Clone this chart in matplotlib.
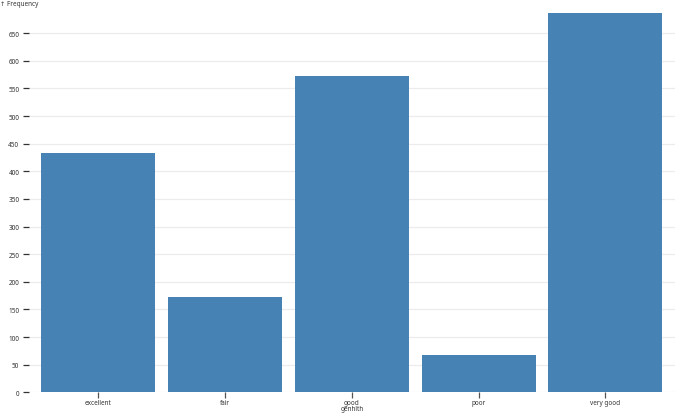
import matplotlib
matplotlib.use("Agg")
import matplotlib.pyplot as plt

categories = ["excellent", "fair", "good", "poor", "very good"]
counts = [433, 172, 572, 67, 687]
yticks = list(range(0, 651, 50))

plt.rcParams['font.family'] = ['Noto Sans', 'DejaVu Sans']

W, H = 690, 414
fs = 4.6
fig = plt.figure(figsize=(W / 100, H / 100), dpi=100)
left, right = 28.7 / W, 675.0 / W
bottom, top = 1 - 393.3 / H, 1 - 13.7 / H
ax = fig.add_axes([left, bottom, right - left, top - bottom])

x = list(range(len(categories)))
ax.bar(x, counts, width=0.9, color="#4682b4", zorder=2)
ax.set_xlim(-0.55, len(categories) - 0.45)
ax.set_ylim(0, 687)

ax.set_yticks(yticks)
ax.set_yticklabels([str(v) for v in yticks])
ax.yaxis.grid(True, color="#ececec", linewidth=0.9, zorder=0)
ax.set_axisbelow(True)
ax.set_xticks(x)
ax.set_xticklabels(categories)

for s in ax.spines.values():
    s.set_visible(False)

ax.tick_params(axis="y", length=4.5, width=0.9, color="#333333", labelsize=fs,
               labelcolor="#333333", pad=2.2)
ax.tick_params(axis="x", length=4, width=0.9, color="#555555", labelsize=fs,
               labelcolor="#333333", pad=0.6)

fig.text(352 / W, 1 - 410 / H, "genhlth", ha="center", va="center",
         fontsize=fs, color="#333333")
fig.text(0.5 / W, 1 - 4.5 / H, "↑ Frequency", ha="left", va="center",
         fontsize=fs, color="#333333")

fig.savefig("out.png", dpi=100)
